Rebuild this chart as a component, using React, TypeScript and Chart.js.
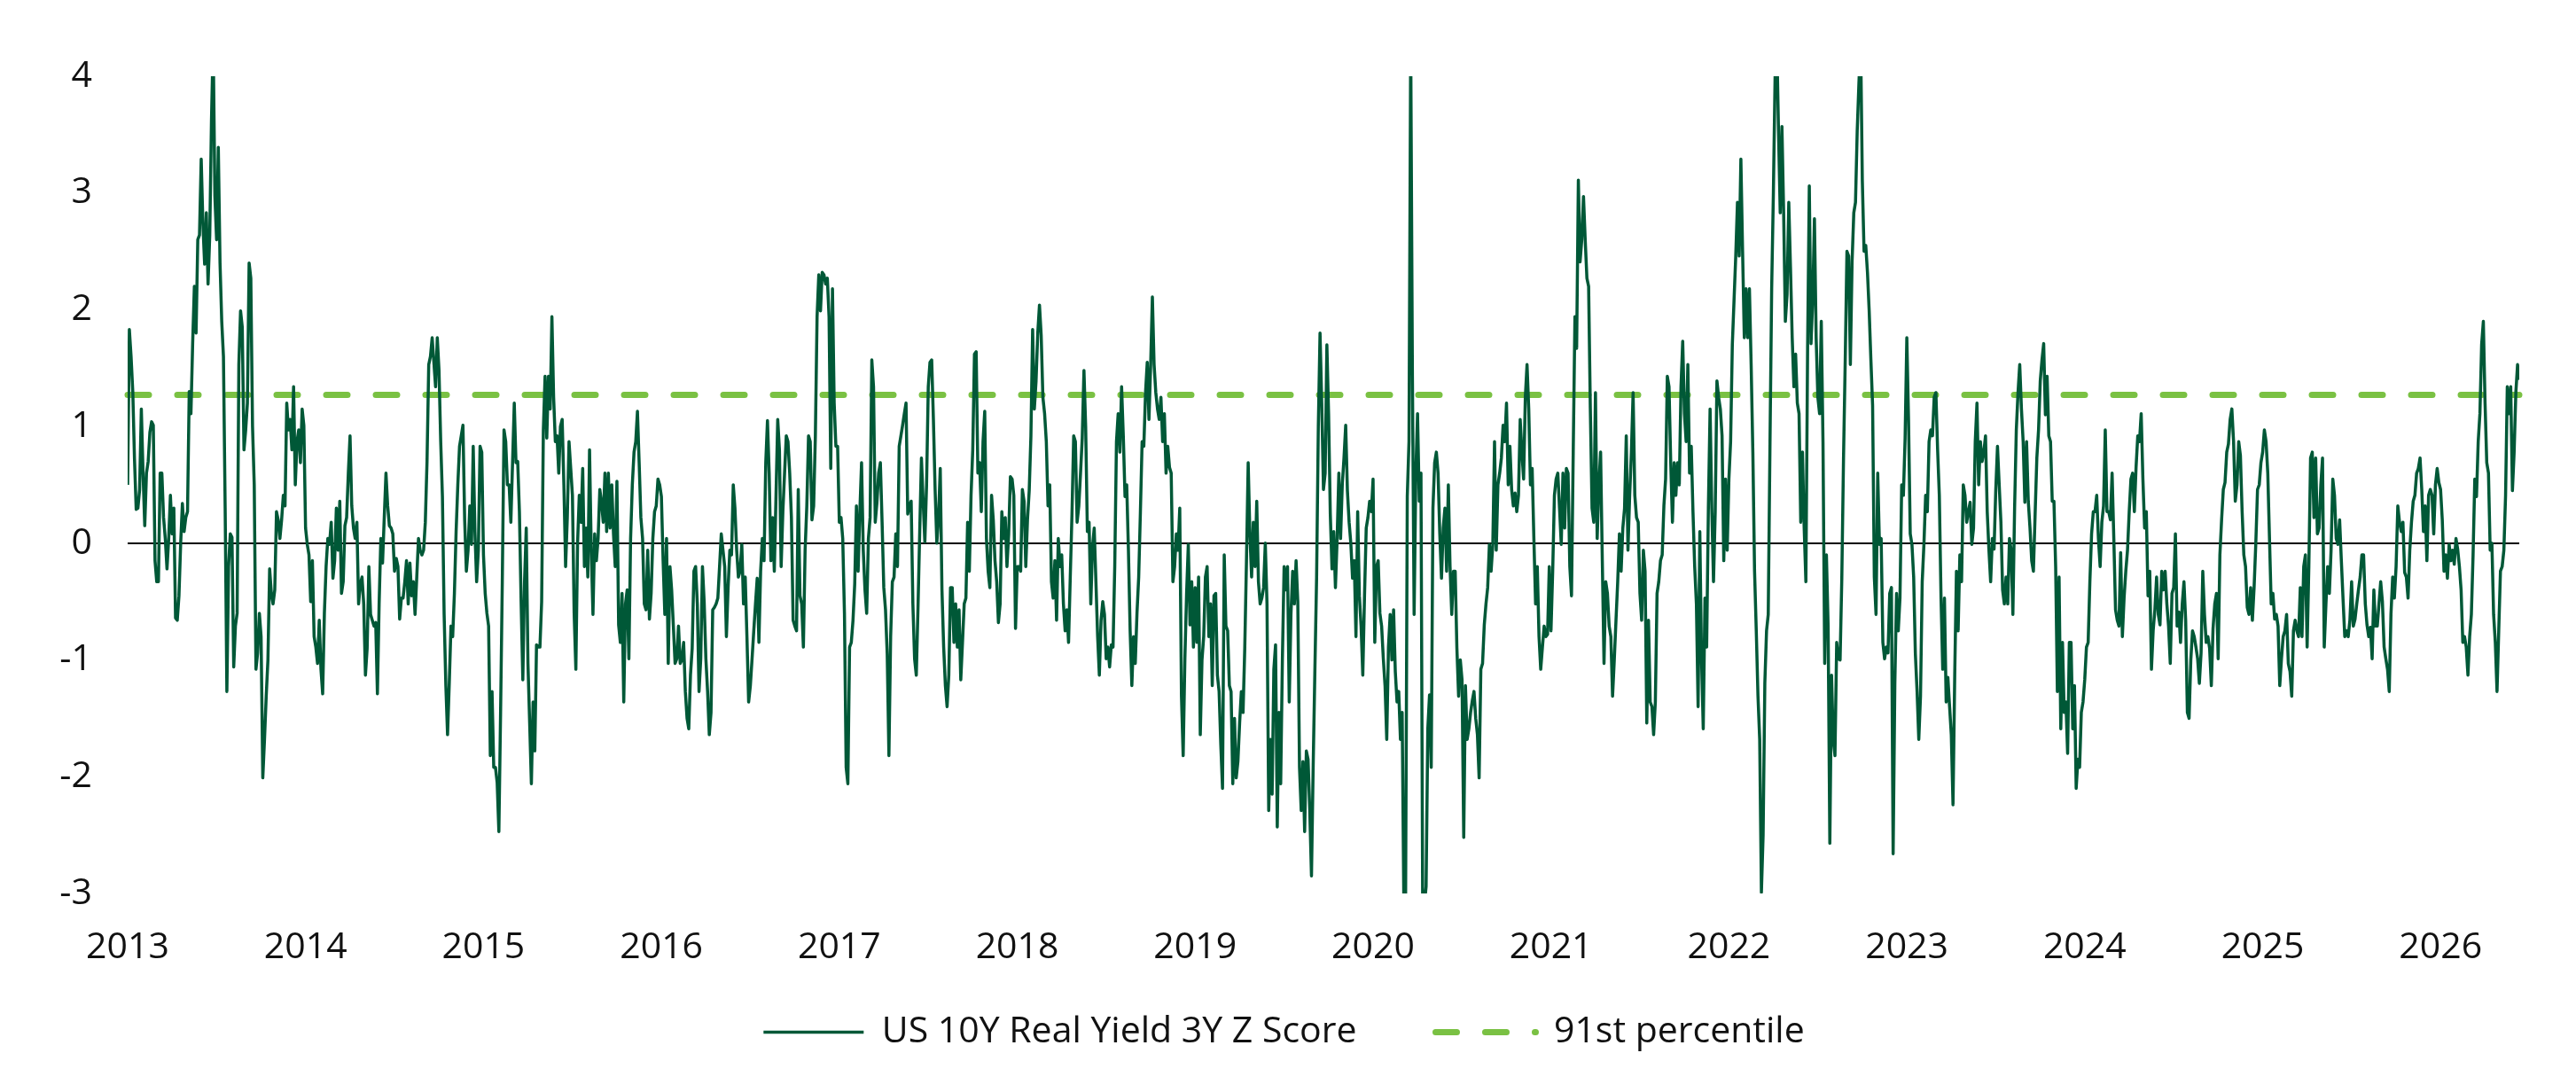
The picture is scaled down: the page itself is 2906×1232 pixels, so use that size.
import React, { useEffect, useRef } from 'react';
import { Chart, registerables } from 'chart.js';

Chart.register(...registerables);

// z score readings, twice a week, one array per calendar year
const zScore2013 = [
  0.5, 1.83, 1.6, 1.3, 0.72, 0.29, 0.3, 0.46, 1.15, 0.6,
  0.15, 0.6, 0.7, 0.95, 1.04, 1.01, -0.15, -0.33, -0.33, 0.6,
  0.6, 0.22, 0.04, -0.22, 0.04, 0.41, 0.08, 0.3, -0.64, -0.66,
  -0.45, 0.0, 0.34, 0.1, 0.22, 0.27, 1.3, 1.11, 1.71, 2.2,
  1.8, 2.6, 2.64, 3.29, 2.73, 2.39, 2.83, 2.22, 2.64, 3.62,
  4.3, 2.97, 2.6, 3.39, 2.4, 1.9, 1.6, 0.3, -1.27, -0.2,
  0.08, 0.05, -1.06, -0.71, -0.6, 1.53, 1.99, 1.85, 0.8, 0.97,
  1.2, 2.4, 2.27, 1.0, 0.5, -1.08, -0.94, -0.6, -0.8, -2.01,
  -1.68, -1.31, -1.0, -0.22, -0.43, -0.52, -0.4, 0.27, 0.2, 0.04,
  0.2, 0.41, 0.32, 1.2, 0.97, 1.06, 0.8, 1.34, 0.5, 0.87,
  0.97, 0.69, 1.15, 1.01,
];
const zScore2014 = [
  0.13, -0.01, -0.1, -0.5, -0.15, -0.8, -0.89, -1.03, -0.66, -1.08,
  -1.29, -0.6, -0.2, 0.04, -0.01, 0.18, -0.3, -0.15, 0.3, -0.06,
  0.36, -0.43, -0.33, 0.15, 0.22, 0.6, 0.92, 0.32, 0.13, 0.04,
  0.18, -0.52, -0.35, -0.29, -0.52, -1.13, -0.9, -0.2, -0.61, -0.66,
  -0.71, -0.68, -1.29, -0.52, 0.04, -0.17, 0.22, 0.6, 0.32, 0.15,
  0.13, 0.08, -0.24, -0.13, -0.2, -0.65, -0.47, -0.47, -0.33, -0.15,
  -0.52, -0.17, -0.45, -0.33, -0.61, -0.29, 0.04, -0.06, -0.1, -0.06,
  0.18, 0.7, 1.53, 1.6, 1.76, 1.55, 1.34, 1.76, 1.48, 0.87,
  0.4, -0.61, -1.22, -1.64, -1.2, -0.71, -0.8, -0.43, 0.1, 0.5,
  0.83, 0.92, 1.01, 0.2, -0.24, -0.06, 0.32, -0.01, 0.83, 0.1,
  -0.33, -0.06, 0.83, 0.78,
];
const zScore2015 = [
  -0.1, -0.43, -0.6, -0.71, -1.82, -1.27, -1.92, -1.92, -2.05, -2.47,
  -1.45, -0.33, 0.97, 0.87, 0.5, 0.5, 0.18, 0.69, 1.2, 0.69,
  0.7, 0.27, -0.5, -1.17, -0.33, 0.13, -1.03, -1.54, -2.06, -1.36,
  -1.78, -0.87, -0.89, -0.89, -0.5, 0.97, 1.43, 0.9, 1.43, 1.15,
  1.94, 1.25, 0.87, 0.92, 0.6, 1.0, 1.06, 0.5, -0.2, 0.22,
  0.87, 0.64, 0.41, -0.6, -1.08, 0.0, 0.41, 0.18, 0.64, -0.2,
  0.13, -0.29, 0.8, -0.06, -0.61, 0.08, -0.15, 0.04, 0.46, 0.35,
  0.18, 0.6, 0.1, 0.6, 0.13, 0.5, 0.08, -0.2, 0.53, -0.7,
  -0.85, -0.43, -1.36, -0.52, -0.4, -0.99, 0.04, 0.5, 0.78, 0.87,
  1.13, 0.69, 0.22, 0.04, -0.52, -0.57, -0.06, -0.65, -0.43, 0.04,
  0.27, 0.32, 0.55, 0.5,
];
const zScore2016 = [
  0.4, -0.15, -0.61, 0.04, -1.03, -0.2, -0.4, -0.71, -1.03, -0.99,
  -0.71, -1.03, -1.0, -0.85, -1.27, -1.5, -1.59, -1.13, -0.9, -0.24,
  -0.2, -0.52, -1.27, -0.99, -0.2, -0.5, -0.99, -1.27, -1.64, -1.45,
  -0.57, -0.55, -0.52, -0.47, -0.2, 0.08, -0.06, -0.2, -0.8, -0.38,
  -0.06, -0.1, 0.5, 0.3, -0.06, -0.29, -0.24, -0.01, -0.52, -0.29,
  -0.8, -1.36, -1.22, -0.99, -0.75, -0.52, -0.3, -0.85, -0.24, 0.04,
  -0.15, 0.69, 1.05, 0.6, -0.15, 0.22, -0.24, 0.41, 1.06, 0.8,
  -0.2, 0.27, 0.6, 0.92, 0.87, 0.6, 0.22, -0.66, -0.71, -0.75,
  0.46, -0.45, -0.52, -0.89, -0.06, 0.32, 0.92, 0.87, 0.2, 0.32,
  0.92, 1.94, 2.3, 1.99, 2.32, 2.3, 2.22, 2.27, 1.94, 0.64,
  2.18, 1.2, 0.83, 0.83,
];
const zScore2017 = [
  0.18, 0.22, 0.04, -0.6, -1.92, -2.06, -0.89, -0.85, -0.66, -0.35,
  0.32, -0.24, 0.27, 0.69, -0.06, -0.4, -0.6, 0.04, 0.22, 1.57,
  1.34, 0.18, 0.35, 0.6, 0.69, 0.18, -0.38, -0.57, -0.95, -1.82,
  -0.8, -0.33, -0.29, 0.08, -0.2, 0.83, 0.92, 1.01, 1.11, 1.2,
  0.25, 0.32, 0.36, -0.52, -0.99, -1.13, -0.55, 0.1, 0.73, 0.36,
  0.01, 0.5, 1.34, 1.55, 1.57, 1.06, 0.46, 0.0, 0.22, 0.64,
  -0.4, -0.89, -1.22, -1.4, -1.13, -0.38, -0.38, -0.85, -0.52, -0.89,
  -0.57, -1.17, -0.85, -0.52, -0.47, 0.18, -0.24, 0.41, 0.8, 1.62,
  1.64, 0.6, 0.69, 0.27, 0.87, 1.13, 0.04, -0.24, -0.38, 0.41,
  0.2, -0.15, -0.33, -0.68, -0.52, 0.27, 0.04, 0.22, -0.2, 0.08,
  0.57, 0.55, 0.41, -0.73,
];
const zScore2018 = [
  -0.2, -0.2, -0.24, 0.46, 0.36, -0.2, 0.2, 0.45, 0.92, 1.83,
  1.15, 1.39, 1.8, 2.04, 1.78, 1.25, 1.11, 0.87, 0.32, 0.5,
  -0.33, -0.47, -0.15, -0.66, 0.04, -0.2, -0.1, -0.52, -0.75, -0.57,
  -0.85, -0.29, 0.25, 0.92, 0.87, 0.18, 0.32, 0.6, 0.9, 1.48,
  1.0, 0.1, 0.18, -0.52, -0.03, 0.13, -0.33, -0.8, -1.13, -0.66,
  -0.5, -0.61, -0.99, -0.89, -1.06, -0.87, -0.89, -0.2, 0.87, 1.11,
  0.78, 1.34, 0.92, 0.4, 0.5, -0.06, -0.75, -1.22, -0.8, -1.03,
  -0.6, -0.29, 0.27, 0.87, 0.83, 1.29, 1.55, 1.06, 1.53, 2.11,
  1.53, 1.29, 1.15, 1.06, 1.25, 0.87, 1.11, 0.6, 0.83, 0.65,
  0.6, -0.33, -0.2, 0.08, -0.06, 0.3, -1.31, -1.82, -0.99, -0.43,
  -0.01, -0.7, -0.33, -0.89,
];
const zScore2019 = [
  -0.38, -0.85, -0.29, -1.64, -1.0, -0.8, -0.29, -0.2, -0.8, -0.52,
  -1.22, -0.45, -0.43, -1.13, -1.27, -1.73, -2.1, -0.1, -0.71, -0.75,
  -1.22, -1.27, -2.06, -1.5, -2.01, -1.87, -1.54, -1.27, -1.45, -0.9,
  -0.15, 0.69, 0.08, -0.29, 0.18, -0.2, 0.36, -0.33, -0.52, -0.47,
  -0.38, 0.0, -0.52, -2.29, -1.68, -2.15, -1.08, -0.87, -2.43, -1.45,
  -2.06, -0.99, -0.2, -0.4, -0.2, -1.36, -0.61, -0.24, -0.52, -0.15,
  -0.5, -1.92, -2.29, -1.87, -2.47, -1.78, -1.85, -2.29, -2.85, -1.9,
  -1.08, -0.29, 1.0, 1.8, 1.2, 0.46, 0.6, 1.7, 1.11, 0.25,
  -0.22, 0.1, -0.38, 0.04, 0.6, 0.04, 0.5, 0.73, 1.01, 0.45,
  0.18, 0.0, -0.3, -0.15, -0.8, 0.27, -0.45, -0.71, -1.13, -0.45,
  0.13, 0.22, 0.36, 0.27,
];
const zScore2020 = [
  0.55, -0.85, -0.2, -0.15, -0.6, -0.71, -0.99, -1.22, -1.68, -0.89,
  -0.61, -1.0, -0.57, -1.1, -1.36, -1.27, -1.68, -1.45, -3.1, -3.1,
  0.4, 0.87, 4.3, 1.43, -0.61, 0.6, 1.11, 0.36, 0.6, -3.1,
  -3.1, -2.94, -1.59, -1.3, -1.92, 0.3, 0.69, 0.78, 0.6, 0.08,
  -0.3, 0.13, 0.3, -0.24, 0.5, -0.2, -0.61, -0.24, -0.24, -0.9,
  -1.31, -1.0, -1.17, -2.52, -1.22, -1.68, -1.59, -1.45, -1.35, -1.27,
  -1.5, -1.64, -2.01, -1.08, -1.03, -0.7, -0.52, -0.38, -0.01, -0.24,
  -0.01, 0.87, -0.06, 0.5, 0.6, 0.73, 1.01, 0.87, 1.2, 0.5,
  0.83, 0.46, 0.32, 0.43, 0.27, 0.41, 1.06, 0.78, 0.55, 1.25,
  1.53, 1.15, 0.5, 0.64, 0.04, -0.52, -0.2, -0.8, -1.08, -0.89,
  -0.71, -0.8, -0.78, -0.2,
];
const zScore2021 = [
  -0.75, -0.24, 0.41, 0.55, 0.6, 0.3, -0.01, 0.6, 0.13, 0.64,
  0.6, -0.2, -0.45, 0.78, 1.94, 1.67, 3.11, 2.41, 2.6, 2.97,
  2.6, 2.27, 2.2, 1.15, 0.3, 0.18, 1.29, 0.04, 0.5, 0.78,
  -0.15, -1.03, -0.33, -0.43, -0.71, -0.8, -1.31, -1.0, -0.66, -0.33,
  0.08, -0.24, 0.13, 0.3, 0.92, -0.06, 0.41, 0.78, 1.29, 0.41,
  0.22, 0.18, -0.43, -0.66, -0.06, -0.24, -1.54, -0.66, -1.36, -1.4,
  -1.64, -1.36, -0.43, -0.33, -0.15, -0.1, 0.32, 0.55, 1.43, 1.34,
  0.69, 0.18, 0.69, 0.41, 0.69, 0.5, 1.34, 1.73, 1.11, 0.87,
  1.53, 0.6, 0.83, 0.27, -0.2, -0.52, -1.4, 0.1, -0.99, -1.59,
  -0.47, -0.89, 0.3, 1.15, 0.3, -0.33, 0.27, 1.39, 1.25, 1.15,
  0.92, -0.15, 0.55, -0.06,
];
const zScore2022 = [
  0.55, 0.87, 1.7, 2.08, 2.46, 2.92, 2.46, 3.29, 2.5, 1.76,
  2.18, 1.76, 2.18, 1.53, 0.78, -0.24, -0.75, -1.31, -1.68, -2.99,
  -2.5, -1.2, -0.75, -0.61, 0.83, 2.18, 3.0, 4.0, 4.3, 3.53,
  2.83, 3.57, 2.83, 1.9, 2.13, 2.92, 2.36, 1.76, 1.34, 1.62,
  1.2, 1.11, 0.18, 0.78, 0.13, -0.33, 1.67, 3.06, 1.71, 2.08,
  2.78, 1.76, 1.25, 1.11, 1.9, 0.87, -1.03, -0.1, -0.71, -2.57,
  -1.13, -1.68, -1.82, -0.85, -0.99, -1.0, -0.3, 0.73, 1.57, 2.5,
  2.46, 1.53, 2.41, 2.83, 2.92, 3.53, 3.94, 4.3, 3.1, 2.5,
  2.55, 2.32, 1.99, 1.57, 1.18, -0.29, -0.61, 0.6, -0.01, 0.04,
  -0.85, -0.99, -0.89, -0.94, -0.43, -0.38, -2.66, -1.2, -0.43, -0.75,
  -0.47, 0.5, 0.41, 0.9,
];
const zScore2023 = [
  1.76, 1.06, 0.08, -0.01, -0.29, -0.95, -1.27, -1.68, -1.31, -0.33,
  -0.01, 0.41, 0.27, 0.87, 0.97, 0.92, 1.25, 1.29, 0.8, 0.41,
  -0.47, -1.08, -0.47, -1.36, -1.15, -1.4, -1.64, -2.24, -1.13, -0.24,
  -0.75, -0.1, -0.33, 0.5, 0.41, 0.18, 0.27, 0.35, -0.01, 0.13,
  0.87, 1.2, 0.5, 0.87, 0.7, 0.78, 0.92, 0.27, -0.06, -0.33,
  0.04, -0.05, 0.46, 0.83, 0.5, 0.18, -0.4, -0.52, -0.29, -0.52,
  0.04, -0.06, -0.61, 0.3, 0.97, 1.29, 1.53, 1.15, 0.87, 0.35,
  0.87, 0.36, 0.13, -0.15, -0.24, 0.25, 0.73, 0.97, 1.39, 1.57,
  1.71, 1.1, 1.43, 0.92, 0.87, 0.36, 0.36, -0.2, -1.27, -0.29,
  -1.59, -0.85, -1.45, -1.36, -1.8, -0.85, -0.85, -1.59, -1.22, -2.1,
  -1.85, -1.92, -1.45, -1.36,
];
const zScore2024 = [
  -1.17, -0.89, -0.85, -0.33, 0.08, 0.27, 0.27, 0.41, 0.04, -0.2,
  0.18, 0.32, 0.97, 0.27, 0.27, 0.2, 0.6, 0.04, -0.57, -0.66,
  -0.71, -0.08, -0.8, -0.47, -0.24, -0.06, 0.27, 0.55, 0.6, 0.27,
  0.65, 0.92, 0.87, 1.11, 0.55, 0.13, 0.27, -0.45, -0.24, -1.08,
  -0.75, -0.57, -0.29, -0.61, -0.7, -0.24, -0.4, -0.24, -0.52, -0.71,
  -1.03, -0.43, -0.38, 0.08, -0.71, -0.59, -0.85, -0.52, -0.33, -0.66,
  -1.45, -1.5, -1.0, -0.75, -0.8, -0.89, -0.99, -1.2, -0.94, -0.24,
  -0.61, -0.85, -0.8, -0.9, -1.22, -0.73, -0.52, -0.43, -0.99, -0.1,
  0.2, 0.46, 0.52, 0.78, 0.85, 1.06, 1.15, 0.87, 0.36, 0.5,
  0.87, 0.75, 0.27, -0.1, -0.2, -0.55, -0.61, -0.38, -0.66, -0.38,
  0.0, 0.46, 0.5, 0.69,
];
const zScore2025 = [
  0.78, 0.97, 0.87, 0.6, 0.04, -0.52, -0.43, -0.65, -0.61, -0.71,
  -1.22, -0.99, -0.8, -0.75, -0.61, -1.03, -1.1, -1.31, -0.75, -0.66,
  -0.75, -0.8, -0.38, -0.8, -0.2, -0.1, -0.89, -0.2, 0.73, 0.78,
  0.22, 0.73, 0.08, 0.13, 0.5, 0.73, -0.89, -0.52, -0.2, -0.43,
  -0.06, 0.55, 0.41, 0.04, -0.01, 0.2, -0.15, -0.48, -0.8, -0.75,
  -0.8, -0.66, -0.33, -0.71, -0.65, -0.52, -0.4, -0.29, -0.1, -0.1,
  -0.52, -0.7, -0.8, -0.72, -0.99, -0.4, -0.71, -0.71, -0.52, -0.33,
  -0.5, -0.89, -0.99, -1.08, -1.27, -0.61, -0.29, -0.47, -0.2, 0.32,
  0.18, 0.1, 0.18, -0.25, -0.29, -0.47, -0.06, 0.18, 0.36, 0.41,
  0.6, 0.64, 0.73, 0.46, 0.1, 0.32, -0.15, 0.41, 0.46, 0.41,
  0.08, 0.5, 0.64, 0.52,
];
const zScore2026 = [
  0.46, 0.2, -0.24, -0.1, -0.3, -0.01, -0.15, -0.06, -0.18, 0.04,
  -0.05, -0.2, -0.4, -0.85, -0.8, -0.89, -1.13, -0.8, -0.61, -0.1,
  0.55, 0.4, 0.87, 1.11, 1.7, 1.9, 1.2, 0.69, 0.6, -0.06,
  0.0, -0.61, -0.85, -1.27, -0.75, -0.24, -0.2, -0.06, 0.41, 1.34,
  1.11, 1.34, 0.45, 0.78, 1.29, 1.53, 1.4,
];

const firstYear = 2013;
const samplesPerYear = 104;
const percentile91 = 1.27;
const seriesLabels = ['US 10Y Real Yield 3Y Z Score', '91st percentile'];

const zScoreByYear = [
  zScore2013, zScore2014, zScore2015, zScore2016, zScore2017,
  zScore2018, zScore2019, zScore2020, zScore2021, zScore2022,
  zScore2023, zScore2024, zScore2025, zScore2026,
];

const DARK_GREEN = '#005837';
const LIGHT_GREEN = '#7ac143';
const TEXT = '#111111';
const FONT = "'Open Sans', 'DejaVu Sans', sans-serif";

const App: React.FC = () => {
  const canvasRef = useRef<HTMLCanvasElement>(null);

  useEffect(() => {
    document.body.style.margin = '0';
    document.body.style.overflow = 'hidden';
    if (!canvasRef.current) return;

    const points = zScoreByYear.flatMap((vals, yi) =>
      vals.map((v, i) => ({ x: firstYear + yi + i / samplesPerYear, y: v }))
    );
    const lastX = points[points.length - 1].x;

    const chart = new Chart(canvasRef.current, {
      type: 'line',
      data: {
        datasets: [
          {
            label: seriesLabels[0],
            data: points,
            borderColor: DARK_GREEN,
            backgroundColor: DARK_GREEN,
            borderWidth: 3.5,
            borderJoinStyle: 'round',
            pointRadius: 0,
            tension: 0,
            clip: 0,
          },
          {
            label: seriesLabels[1],
            data: [
              { x: firstYear, y: percentile91 },
              { x: lastX, y: percentile91 },
            ],
            borderColor: LIGHT_GREEN,
            backgroundColor: LIGHT_GREEN,
            borderWidth: 7,
            borderDash: [24, 32],
            borderCapStyle: 'round',
            pointRadius: 0,
            clip: false,
          },
        ],
      },
      options: {
        animation: false,
        responsive: true,
        maintainAspectRatio: false,
        layout: { padding: { top: 86, right: 64, bottom: 37, left: 55 } },
        font: { family: FONT },
        plugins: {
          tooltip: { enabled: false },
          legend: {
            position: 'bottom',
            labels: {
              usePointStyle: true,
              pointStyle: 'line',
              pointStyleWidth: 113,
              padding: 48,
              color: TEXT,
              font: { family: FONT, size: 41 },
              generateLabels: (c: Chart) => {
                const items = Chart.defaults.plugins.legend.labels.generateLabels(c);
                return items.map((item: any, idx: number) => {
                  const ds: any = c.data.datasets[item.datasetIndex];
                  return {
                    ...item,
                    // wider gap between the two legend entries
                    text: idx < items.length - 1 ? item.text + '\u2003' : item.text,
                    strokeStyle: ds.borderColor,
                    lineWidth: ds.borderWidth,
                    lineDash: ds.borderDash || [],
                    lineCap: ds.borderCapStyle || 'butt',
                    rotation: 180,
                  };
                });
              },
            },
          },
        },
        scales: {
          x: {
            type: 'linear',
            min: firstYear,
            max: lastX,
            grid: { display: false, drawTicks: false },
            border: { display: false },
            ticks: {
              stepSize: 1,
              includeBounds: false,
              autoSkip: false,
              maxRotation: 0,
              padding: 37,
              color: TEXT,
              font: { family: FONT, size: 41 },
              callback: (v: any) => String(v),
            },
            afterFit: (s: any) => {
              s.height = 88;
            },
          },
          y: {
            min: -3,
            max: 4,
            border: { display: false },
            grid: {
              drawTicks: false,
              lineWidth: 2,
              color: (ctx: any) => (ctx.tick && ctx.tick.value === 0 ? '#000000' : 'rgba(0,0,0,0)'),
            },
            ticks: {
              stepSize: 1,
              padding: 40,
              color: TEXT,
              font: { family: FONT, size: 41 },
              callback: (v: any) => String(v),
            },
            afterFit: (s: any) => {
              s.width = 89;
            },
          },
        },
      },
    });

    return () => {
      chart.destroy();
    };
  }, []);

  return (
    <div style={{ width: 2906, height: 1232, position: 'relative' }}>
      <canvas ref={canvasRef} />
    </div>
  );
};

export default App;
